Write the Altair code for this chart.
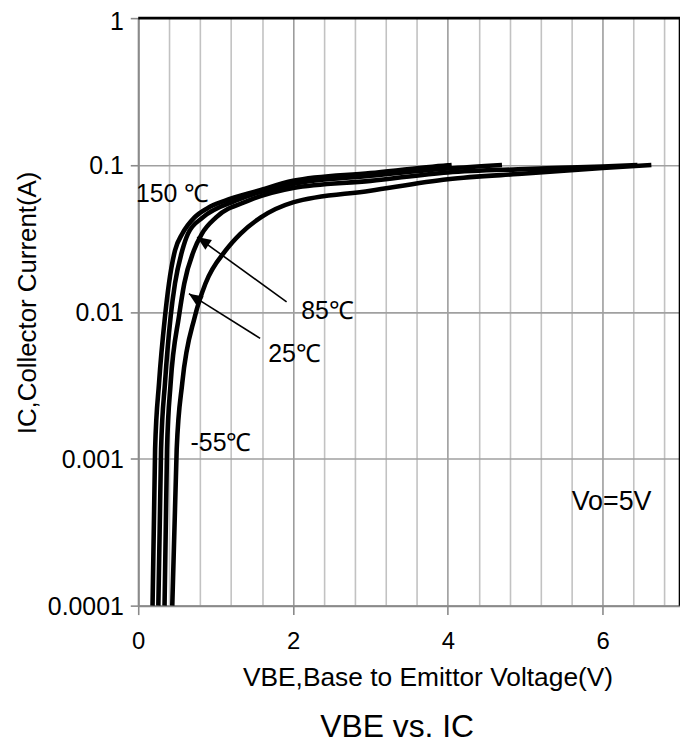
import altair as alt
import pandas as pd

FONT = "Liberation Sans"

# ---- curve data: VBE (V) vs IC (A) for each temperature ----
temps = ["150", "85", "25", "-55"]

v150 = [0.185, 0.218, 0.269, 0.346, 0.397, 0.475, 0.569, 0.728, 0.90, 1.116, 1.55, 2.0, 3.0, 4.0, 4.05]
i150 = [1e-4, 1.16e-3, 3.28e-3, 9.3e-3, 0.0156, 0.0262, 0.034, 0.044, 0.051, 0.057, 0.0668, 0.078, 0.0881, 0.0995, 0.1]

v85 = [0.26, 0.295, 0.346, 0.419, 0.475, 0.569, 0.642, 0.835, 1.25, 2.0, 3.0, 4.0, 4.7]
i85 = [1e-4, 1.16e-3, 3.28e-3, 9.3e-3, 0.0156, 0.0262, 0.034, 0.044, 0.057, 0.0743, 0.0845, 0.0946, 0.1]

v25 = [0.34, 0.372, 0.419, 0.526, 0.595, 0.719, 0.822, 1.006, 1.416, 2.0, 3.0, 4.0, 5.0, 6.0, 6.45]
i25 = [1e-4, 1.16e-3, 3.28e-3, 9.3e-3, 0.0156, 0.0262, 0.034, 0.044, 0.057, 0.0698, 0.078, 0.089, 0.0938, 0.0977, 0.1]

vm55 = [0.44, 0.497, 0.569, 0.732, 0.869, 1.13, 1.32, 1.584, 2.0, 3.0, 4.0, 5.0, 6.0, 6.63]
im55 = [1e-4, 1.16e-3, 3.28e-3, 9.3e-3, 0.0156, 0.0262, 0.034, 0.044, 0.0557, 0.0668, 0.080, 0.0875, 0.0953, 0.1]

# axis values
x_domain = [0, 7]
y_domain = [1e-4, 1]
x_grid = [0, 0.4, 0.8, 1.2, 1.6, 2, 2.4, 2.8, 3.2, 3.6, 4, 4.4, 4.8, 5.2, 5.6, 6, 6.4, 6.8]
y_ticks = [0.0001, 0.001, 0.01, 0.1, 1]

# annotations (data coordinates)
temp_labels = ["150 ℃", "85℃", "25℃", "-55℃"]
temp_label_v = [-0.03, 2.105, 1.68, 0.676]
temp_label_i = [0.0638, 0.0101, 0.00518, 0.00127]

cond_text = ["Vo=5V"]
cond_v = [5.6]
cond_i = [5.07e-4]

arrow_v0 = [1.917, 1.575]
arrow_i0 = [0.0117, 0.0066]
arrow_v1 = [0.761, 0.655]
arrow_i1 = [0.0323, 0.0133]

rows = []
for name, vs, ics in zip(temps, [v150, v85, v25, vm55], [i150, i85, i25, im55]):
    for v, i in zip(vs, ics):
        rows.append({"temp": name, "vbe": v, "ic": i})
curves = pd.DataFrame(rows)

labels_df = pd.DataFrame({"t": temp_labels, "vbe": temp_label_v, "ic": temp_label_i})
cond_df = pd.DataFrame({"t": cond_text, "vbe": cond_v, "ic": cond_i})
arrows_df = pd.DataFrame({"vbe": arrow_v0, "ic": arrow_i0, "vbe_tip": arrow_v1, "ic_tip": arrow_i1})
# top and right frame lines of the plot area (domain corners)
frame_df = pd.DataFrame({
    "vbe": [x_domain[0], x_domain[1]], "vbe2": [x_domain[1], x_domain[1]],
    "ic": [y_domain[1], y_domain[0]], "ic2": [y_domain[1], y_domain[1]],
})

xscale = alt.Scale(domain=x_domain, nice=False, zero=False)
yscale = alt.Scale(type="log", domain=y_domain, nice=False)

major = "datum.value % 2 == 0"

x_axis = alt.Axis(
    values=x_grid, format="~g",
    labelExpr=f"{major} ? datum.label : ''",
    title="VBE,Base to Emittor Voltage(V)",
    grid=True,
    gridColor={"condition": {"test": major, "value": "#9c9c9c"}, "value": "#c2c2c2"},
    gridWidth=1.6,
    tickOpacity={"condition": {"test": major, "value": 1}, "value": 0},
    tickSize=9, tickWidth=1.6, tickColor="#8a8a8a",
    domainColor="#8a8a8a", domainWidth=2,
    labelFontSize=24, labelFont=FONT, labelColor="black", labelPadding=15, labelFlush=False,
    titleFontSize=26.5, titleFont=FONT, titleFontWeight="normal", titleColor="black",
    titleX=291, titleY=80, titleBaseline="alphabetic", titleAlign="center",
)

y_axis = alt.Axis(
    values=y_ticks, format="~g",
    title="IC,Collector Current(A)",
    grid=True,
    gridColor="#a0a0a0", gridWidth=1.6,
    gridOpacity={"condition": {"test": "datum.value >= 1", "value": 0}, "value": 1},
    tickSize=8, tickWidth=1.6, tickColor="#8a8a8a",
    domainColor="#8a8a8a", domainWidth=2,
    labelFontSize=25, labelFont=FONT, labelColor="black", labelPadding=7,
    labelOffset={"condition": {"test": "datum.value >= 1", "value": 3}, "value": 1},
    titleFontSize=26, titleFont=FONT, titleFontWeight="normal", titleColor="black",
    titleX=-111, titleY=286, titleBaseline="middle", titleAngle=-90,
)

X = alt.X("vbe:Q", scale=xscale, axis=x_axis)
Y = alt.Y("ic:Q", scale=yscale, axis=y_axis)

frame = alt.Chart(frame_df).mark_rule(color="black", strokeWidth=2.6).encode(
    x=X, y=Y, x2="vbe2:Q", y2="ic2:Q",
)

lines = alt.Chart(curves).mark_line(
    color="black", strokeWidth=4.6, interpolate="monotone"
).encode(x=X, y=Y, detail="temp:N")

temp_text = alt.Chart(labels_df).mark_text(
    align="left", baseline="middle", fontSize=25, font=FONT, color="black"
).encode(x=X, y=Y, text="t:N")

cond_mark = alt.Chart(cond_df).mark_text(
    align="left", baseline="middle", fontSize=27, font=FONT, color="black"
).encode(x=X, y=Y, text="t:N")

arrow_lines = alt.Chart(arrows_df).mark_rule(color="black", strokeWidth=1.6).encode(
    x=X, y=Y, x2="vbe_tip:Q", y2="ic_tip:Q",
)

arrow_heads = alt.Chart(arrows_df).mark_point(
    shape="M0,0 L0.42,1 L-0.42,1 Z", filled=True, color="black", opacity=1,
    size=780, angle=304, strokeWidth=0,
).encode(
    x=alt.X("vbe_tip:Q", scale=xscale, axis=x_axis),
    y=alt.Y("ic_tip:Q", scale=yscale, axis=y_axis),
)

chart = alt.layer(frame, lines, arrow_lines, arrow_heads, temp_text, cond_mark).properties(
    width=545,
    height=591,
    padding={"left": 131, "top": 8, "right": 0, "bottom": 138},
    autosize=alt.AutoSizeParams(type="none"),
    title=alt.TitleParams(
        "VBE vs. IC", orient="bottom", anchor="middle", fontSize=32, font=FONT,
        fontWeight="normal", color="black", offset=22, dx=-12,
    ),
).configure(
    font=FONT
).configure_view(
    stroke="transparent", strokeWidth=0
)

chart.save("out.html", embed_options={"renderer": "svg", "actions": False})
